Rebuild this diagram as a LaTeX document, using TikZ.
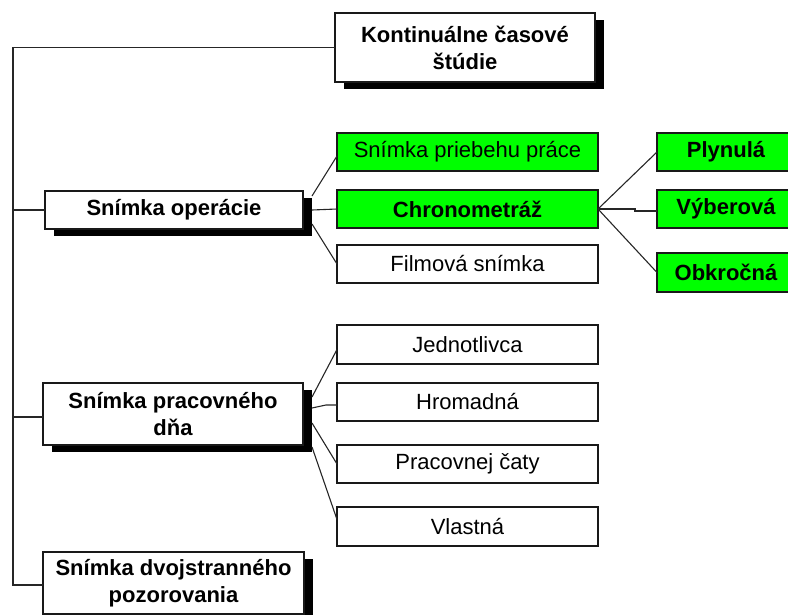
\documentclass[tikz,border=0pt]{standalone}
\usepackage{fontspec}
\setmainfont{Liberation Sans}
\usetikzlibrary{shadows,calc}
\definecolor{boxgreen}{RGB}{0,255,0}
\begin{document}
\begin{tikzpicture}[x=1pt,y=-1pt,
  base/.style={draw=black!90, line width=1.5pt, inner sep=0pt, outer sep=0pt,
    font=\fontsize{22}{27}\selectfont, align=center, text=black},
  mainbox/.style={base, fill=white, font=\fontsize{22}{27}\selectfont\bfseries,
    drop shadow={shadow xshift=8.5pt, shadow yshift=-7pt, fill=black, opacity=1}},
  subbox/.style={base, fill=white, minimum width=261pt, minimum height=38pt},
  greenbox/.style={subbox, fill=boxgreen},
  boldgreen/.style={greenbox, font=\fontsize{22}{27}\selectfont\bfseries},
  rightbox/.style={base, fill=boxgreen, minimum width=138pt, minimum height=38pt,
    font=\fontsize{22}{27}\selectfont\bfseries},
  conn/.style={line width=1.1pt, draw=black!85}
]
\useasboundingbox (0,0) rectangle (788,614);

% main boxes
\node[mainbox, minimum width=260pt, minimum height=69pt] (kont) at (465,47.5) {Kontinuálne časové\\štúdie};
\node[mainbox, minimum width=258pt, minimum height=38pt] (op) at (174,210) {Snímka operácie};
\node[mainbox, minimum width=260pt, minimum height=62pt] (prac) at (173,414) {Snímka pracovného\\dňa};
\node[mainbox, minimum width=261pt, minimum height=62pt] (dvoj) at (173.5,583) {Snímka dvojstranného\\pozorovania};

% second level under Snímka operácie
\node[greenbox] (prieb) at (467.5,152) {Snímka priebehu práce};
\node[boldgreen] (chrono) at (467.5,209) {Chronometráž};
\node[subbox] (film) at (467.5,264) {Filmová snímka};

% third level under Chronometráž
\node[rightbox] (plyn) at (726,152) {Plynulá};
\node[rightbox] (vyb) at (726,209) {Výberová};
\node[rightbox, minimum height=39pt] (obk) at (726,272.5) {Obkročná};

% second level under Snímka pracovného dňa
\node[subbox, minimum height=39pt] (jedn) at (467.5,344.5) {Jednotlivca};
\node[subbox] (hrom) at (467.5,402) {Hromadná};
\node[subbox] (cata) at (467.5,464) {Pracovnej čaty};
\node[subbox, minimum height=39pt] (vlas) at (467.5,526.5) {Vlastná};

% trunk
\coordinate (t1) at (13,47.5);
\coordinate (t2) at (13,210);
\coordinate (t3) at (13,417);
\coordinate (t4) at (13,585);
\draw[conn, line width=1.4pt] (kont.west) -- (t1) -- (t4) -- (t4 -| dvoj.west);
\draw[conn, line width=1.4pt] (t2) -- (op.west);
\draw[conn, line width=1.4pt] (t3) -- (t3 -| prac.west);

% Snímka operácie -> children
\draw[conn] ($(op.east)+(9,-14)$) -- ($(prieb.west)+(0,4)$);
\draw[conn] ($(op.east)+(9,0)$) -- (chrono.west);
\draw[conn] ($(op.east)+(9,14)$) -- (film.west);

% Chronometráž -> children
\draw[conn] (chrono.east) -- (plyn.west);
\draw[conn] (chrono.east) -- ($(chrono.east)+(37,0)$) -- ($(vyb.west)+(-22,2)$) -- ($(vyb.west)+(0,2)$);
\draw[conn] (chrono.east) -- (obk.west);

% Snímka pracovného dňa -> children
\draw[conn] ($(prac.east)+(9,-17)$) -- ($(jedn.west)+(0,5)$);
\draw[conn] ($(prac.east)+(9,-6)$) -- ($(hrom.west)+(-11,3)$) -- ($(hrom.west)+(0,3)$);
\draw[conn] ($(prac.east)+(9,9)$) -- (cata.west);
\draw[conn] ($(prac.east)+(9,33)$) -- ($(vlas.west)+(0,-7)$);
\end{tikzpicture}
\end{document}
